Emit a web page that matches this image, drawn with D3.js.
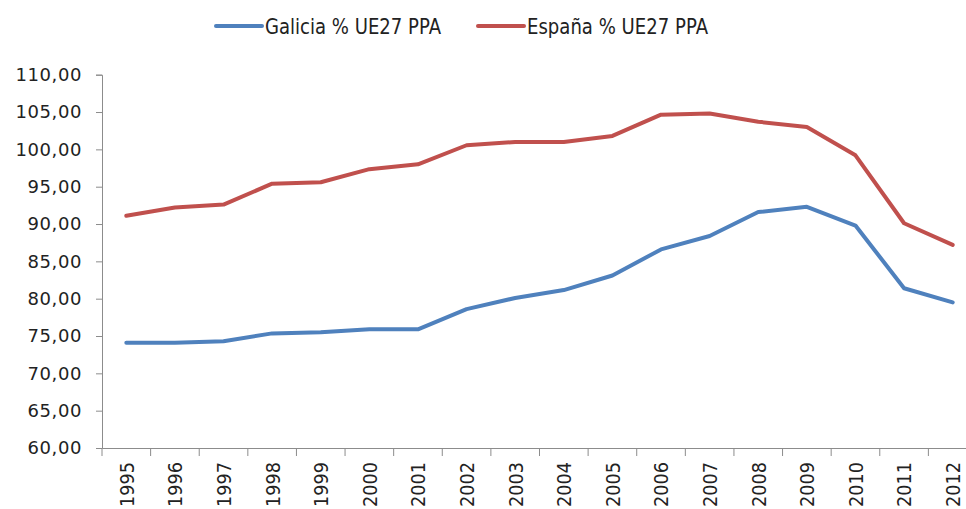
<!DOCTYPE html>
<html>
<head>
<meta charset="utf-8">
<script src="https://cdn.jsdelivr.net/npm/d3@7"></script>
<style>
  body { margin: 0; background: #fff; }
  text { font-family: "DejaVu Sans", sans-serif; fill: #222; }
</style>
</head>
<body>
<svg width="966" height="509"></svg>
<script>
// data
const years = ['1995','1996','1997','1998','1999','2000','2001','2002','2003',
  '2004','2005','2006','2007','2008','2009','2010','2011','2012']
const galicia = [74.1, 74.1, 74.3, 75.35, 75.5, 75.9, 75.9, 78.6, 80.1,
  81.15, 83.1, 86.6, 88.4, 91.6, 92.3, 89.8, 81.4, 79.5]
const espana = [91.1, 92.2, 92.6, 95.4, 95.6, 97.35, 98.0, 100.55, 101.0,
  101.0, 101.8, 104.65, 104.8, 103.7, 103.0, 99.2, 90.1, 87.2]
const yTicks = [60, 65, 70, 75, 80, 85, 90, 95, 100, 105, 110]
const seriesNames = ['Galicia % UE27 PPA', 'España % UE27 PPA']
const colors = ['#4f81bd', '#c0504d']

const svg = d3.select('svg')
const plotLeft = 102, plotRight = 977, plotTop = 74.7, plotBottom = 448

const x = d3.scaleBand().domain(years).range([plotLeft, plotRight])
const y = d3.scaleLinear().domain([60, 110]).range([plotBottom, plotTop])

// y axis
const yAxis = svg.append('g')
  .attr('transform', `translate(${plotLeft},0)`)
  .call(d3.axisLeft(y).tickValues(yTicks).tickSize(6).tickPadding(14)
    .tickFormat(d => d3.format('.2f')(d).replace('.', ',')))
yAxis.selectAll('line, path').attr('stroke', '#8c8c8c')
yAxis.selectAll('text').attr('font-size', 18).attr('fill', '#222')
  .style('letter-spacing', '0.6px')
  .attr('font-family', '"DejaVu Sans", sans-serif')

// x axis, ticks sit between categories
const xAxis = svg.append('g')
  .attr('transform', `translate(0,${plotBottom})`)
  .call(d3.axisBottom(x).tickSize(0).tickFormat(''))
xAxis.select('path').attr('stroke', '#8c8c8c')
xAxis.selectAll('.tick').remove()
xAxis.selectAll('line.sep')
  .data(years.concat(['end']))
  .enter().append('line')
    .attr('class', 'sep')
    .attr('x1', (d, i) => plotLeft + i * x.step())
    .attr('x2', (d, i) => plotLeft + i * x.step())
    .attr('y1', 0).attr('y2', 8)
    .attr('stroke', '#8c8c8c')

// year labels, squeezed a bit so they stay inside the picture
svg.append('g').selectAll('text')
  .data(years)
  .enter().append('text')
    .attr('transform', d => `translate(${x(d) + x.bandwidth() / 2},462) rotate(-90)`)
    .attr('text-anchor', 'end')
    .attr('dy', '0.37em')
    .attr('font-size', 20)
    .attr('textLength', 45)
    .attr('lengthAdjust', 'spacingAndGlyphs')
    .text(d => d)

// lines
const line = d3.line()
  .x((d, i) => x(years[i]) + x.bandwidth() / 2)
  .y(d => y(d))
;[galicia, espana].forEach(function(vals, k) {
  svg.append('path')
    .datum(vals)
    .attr('fill', 'none')
    .attr('stroke', colors[k])
    .attr('stroke-width', 4)
    .attr('stroke-linejoin', 'round')
    .attr('stroke-linecap', 'round')
    .attr('d', line)
})

// legend
const legendX = [216, 478]
const legendW = [176, 181]
seriesNames.forEach(function(name, k) {
  const g = svg.append('g').attr('transform', `translate(${legendX[k]},26)`)
  g.append('line')
    .attr('x1', 0).attr('x2', 46)
    .attr('stroke', colors[k]).attr('stroke-width', 4).attr('stroke-linecap', 'round')
  g.append('text')
    .attr('x', 49).attr('dy', '0.36em')
    .attr('font-family', 'Lato, sans-serif')
    .attr('font-size', 22)
    .attr('textLength', legendW[k])
    .attr('lengthAdjust', 'spacingAndGlyphs')
    .text(name)
})
</script>
</body>
</html>
